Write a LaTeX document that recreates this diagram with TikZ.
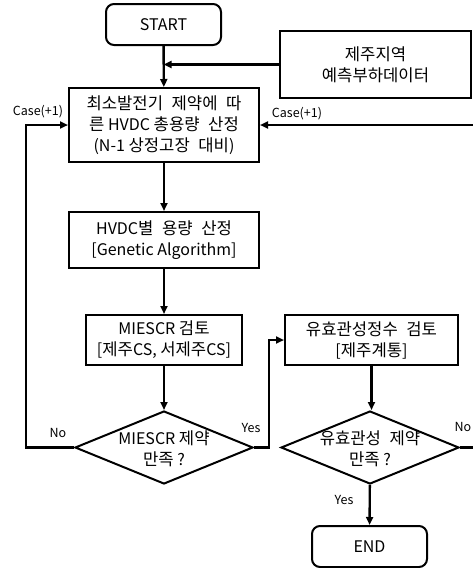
\documentclass[tikz,border=0pt]{standalone}
\usepackage{fontspec}
\setmainfont{Noto Sans CJK KR}
\newfontfamily\hgfont[Scale=1.04,WordSpace=2.3]{Noto Sans CJK KR}
\newcommand\hg[1]{{\hgfont #1}}
\usetikzlibrary{shapes.geometric,arrows.meta}
\begin{document}
\begin{tikzpicture}[x=1pt,y=-1pt,
  every node/.style={font=\fontsize{16}{21}\selectfont},
  box/.style={draw, line width=2pt, inner sep=0pt, align=center},
  rbox/.style={box, rounded corners=8pt},
  dia/.style={draw, diamond, line width=2pt, inner sep=0pt},
  txt/.style={align=center, inner sep=0pt},
  lbl/.style={inner sep=0pt, font=\fontsize{12.5}{14}\selectfont},
  conn/.style={line width=2.4pt},
  arr/.style={conn, -{Triangle[length=8pt,width=7pt]}}]
\useasboundingbox (0,0) rectangle (473,568);
% nodes
\node[rbox, minimum width=115, minimum height=41] (start) at (163.5,24.5) {START};
\node[box, minimum width=191, minimum height=67] (data) at (375.5,64.5) {\hg{제주지역}\\\hg{예측부하데이터}};
\node[box, minimum width=190, minimum height=74] (b1) at (164,125) {\hg{최소발전기 제약에 따}\\\hg{른} HVDC \hg{총용량 산정}\\(N-1 \hg{상정고장 대비})};
\node[box, minimum width=190, minimum height=56] (b2) at (164,240) {HVDC\hg{별 용량 산정}\\{[Genetic Algorithm]}};
\node[box, minimum width=156, minimum height=50] (b3) at (164,340) {MIESCR \hg{검토}\\{[\hg{제주}CS, \hg{서제주}CS]}};
\node[box, minimum width=173, minimum height=50] (b4) at (371.5,340) {\hg{유효관성정수 검토}\\{[\hg{제주계통}]}};
\node[dia, minimum width=178, minimum height=73] (d1) at (164,447.5) {};
\node[txt] (d1t) at (164,449) {MIESCR \hg{제약}\\\hg{만족} ?};
\node[dia, minimum width=178, minimum height=73] (d2) at (370,447.5) {};
\node[txt] (d2t) at (370,449) {\hg{유효관성 제약}\\\hg{만족} ?};
\node[rbox, minimum width=115, minimum height=41] (end) at (369.5,546.5) {END};
% free coordinates
\coordinate (join) at (163.5,64.5);
\coordinate (lx) at (26,447.5);
\coordinate (yx) at (269,447.5);
\coordinate (rx) at (477,447.5);
% labels
\node[lbl] (c1) at (38,112) {Case(+1)};
\node[lbl] (c2) at (297,114) {Case(+1)};
\node[lbl] (n1) at (58,433) {No};
\node[lbl] (y1) at (251,428) {Yes};
\node[lbl] (n2) at (463,427) {No};
\node[lbl] (y2) at (344,500) {Yes};
% connectors
\draw[arr] (start) -- (b1);
\draw[arr] (data) -- (join);
\draw[arr] (b1) -- (b2);
\draw[arr] (b2) -- (b3);
\draw[arr] (b3) -- (d1);
\draw[arr] (b4) -- (b4 |- d2.north);
\draw[arr] (d2) -- (end);
\draw[arr] (d1.west) -- (lx) |- (b1.west);
\draw[arr] (d1.east) -- (yx) |- (b4.west);
\draw[arr] (d2.east) -- (rx) |- (b1.east);
\end{tikzpicture}
\end{document}
